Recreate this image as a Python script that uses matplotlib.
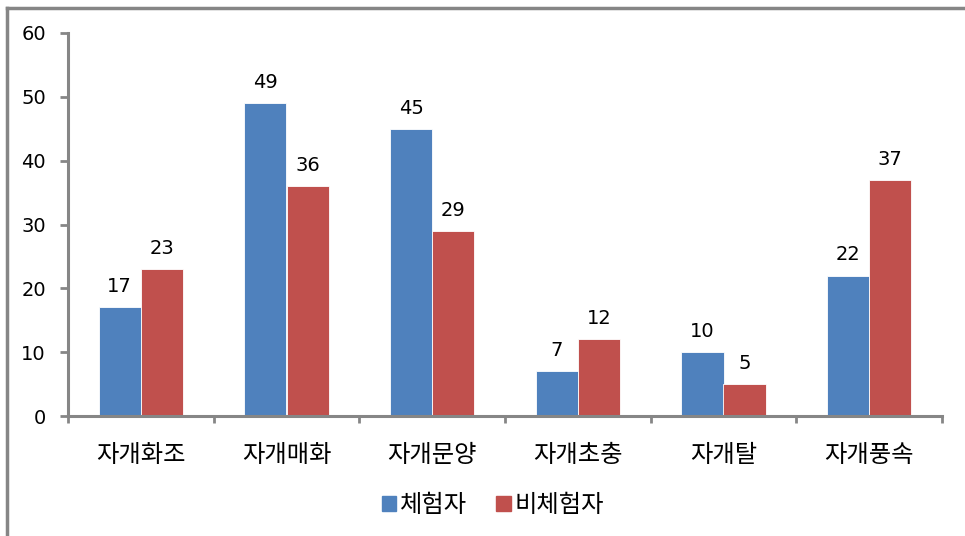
import matplotlib
matplotlib.use("Agg")
import matplotlib.pyplot as plt
from matplotlib.lines import Line2D
import matplotlib.patches as mpatches
import numpy as np

plt.rcParams['font.family'] = ['Noto Sans CJK KR', 'DejaVu Sans']
NUM_FONT = 'DejaVu Sans'

# data
categories = ['자개화조', '자개매화', '자개문양', '자개초충', '자개탈', '자개풍속']
experienced = [17, 49, 45, 7, 10, 22]
non_experienced = [23, 36, 29, 12, 5, 37]
series_names = ['체험자', '비체험자']

BLUE = '#4F81BD'
RED = '#C0504D'
GRAY = '#868686'

fig = plt.figure(figsize=(9.65, 5.36), dpi=100)
ax = fig.add_axes([68 / 965, 1 - 416 / 536, (942 - 68) / 965, (416 - 33) / 536])

x = np.arange(len(categories))
w = 0.29
b1 = ax.bar(x - w / 2, experienced, w, color=BLUE, edgecolor='white', linewidth=0.6)
b2 = ax.bar(x + w / 2, non_experienced, w, color=RED, edgecolor='white', linewidth=0.6)

for bars, vals in ((b1, experienced), (b2, non_experienced)):
    for r, v in zip(bars, vals):
        ax.annotate(str(v), (r.get_x() + r.get_width() / 2, v),
                    xytext=(0, 8), textcoords='offset points',
                    ha='center', va='bottom', fontsize=14, family=NUM_FONT, color='black')

ax.set_xlim(-0.5, len(categories) - 0.5)
ax.set_ylim(0, 60)
ax.set_yticks(range(0, 61, 10))
ax.set_yticklabels([str(v) for v in range(0, 61, 10)], fontsize=14, family=NUM_FONT)

# category labels centred, ticks at the boundaries
ax.set_xticks(np.arange(-0.5, len(categories), 1.0))
ax.set_xticklabels([])
ax.set_xticks(x, minor=True)
ax.set_xticklabels(categories, minor=True, fontsize=17.5)
ax.tick_params(axis='x', which='minor', length=0, pad=19)
ax.tick_params(axis='x', which='major', length=5, width=2, color=GRAY, direction='out')
ax.tick_params(axis='y', length=6, width=2, color=GRAY, direction='out', pad=10)

for s in ['top', 'right']:
    ax.spines[s].set_visible(False)
for s in ['left', 'bottom']:
    ax.spines[s].set_color(GRAY)
    ax.spines[s].set_linewidth(2.2)

# legend
handles = [mpatches.Patch(color=BLUE, label=series_names[0]),
           mpatches.Patch(color=RED, label=series_names[1])]
fig.legend(handles=handles, loc='center', bbox_to_anchor=(493 / 965, 1 - 505 / 536),
           ncol=2, frameon=False, fontsize=17.5, handlelength=0.6, handleheight=0.6,
           handletextpad=0.15, columnspacing=1.2)

# outer chart frame (cropped at right and bottom)
fig.add_artist(Line2D([7 / 965, 1], [1 - 8 / 536, 1 - 8 / 536], color=GRAY, lw=2.5,
                      transform=fig.transFigure))
fig.add_artist(Line2D([7 / 965, 7 / 965], [0, 1 - 8 / 536], color=GRAY, lw=2.5,
                      transform=fig.transFigure))

fig.savefig('out.png', dpi=100)
